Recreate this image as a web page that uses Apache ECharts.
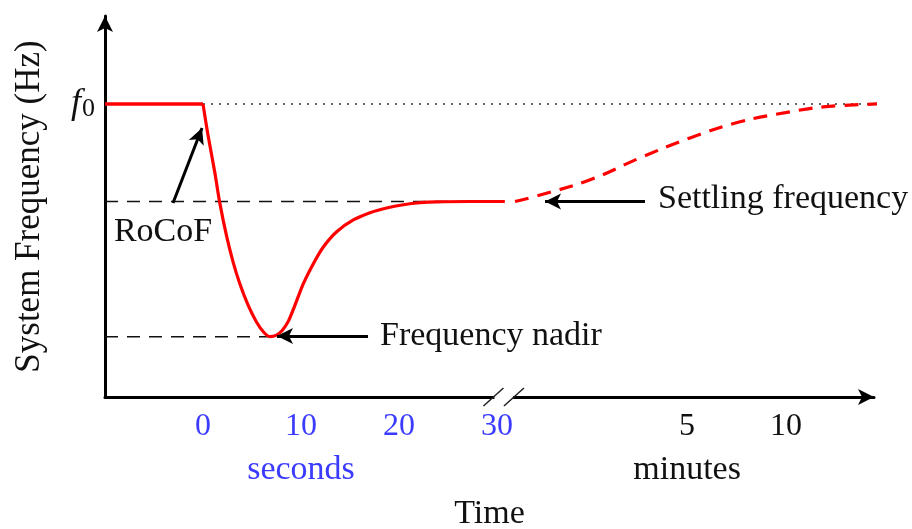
<!DOCTYPE html>
<html>
<head>
<meta charset="utf-8">
<script src="https://cdn.jsdelivr.net/npm/echarts@6/dist/echarts.min.js"></script>
<style>
  html, body { margin: 0; padding: 0; background: #fff; overflow: hidden; }
  #chart { width: 912px; height: 529px; }
</style>
</head>
<body>
<div id="chart"></div>
<script>
  // x is in "axis units": seconds up to the break, minutes squeezed in after it
  // y is frequency normalised so that f0 = 1
  const preEvent = [[-10, 1], [0, 1]];
  const response = [
    [0, 1], [0.51, 0.894], [1.19, 0.769], [1.7, 0.665], [2.38, 0.553],
    [3.06, 0.462], [3.74, 0.388], [4.59, 0.314], [5.44, 0.257], [6.2, 0.221],
    [6.84, 0.206], [7.5, 0.211], [8.1, 0.228], [8.7, 0.258], [9.3, 0.306],
    [10.23, 0.386], [11.26, 0.455], [12.28, 0.512], [13.64, 0.564], [15.34, 0.604],
    [17.04, 0.629], [18.74, 0.645], [20.44, 0.656], [22.14, 0.663], [23.85, 0.666],
    [27.24, 0.667], [30.8, 0.667]
  ];
  const recovery = [
    [31.84, 0.667], [34.4, 0.689], [39.5, 0.741], [44.6, 0.816], [49.7, 0.884],
    [54.8, 0.939], [59.9, 0.973], [63.3, 0.99], [68.9, 1.0]
  ];
  const f0Line = [[0, 1], [69.1, 1]];
  const settleLine = [[-10, 0.667], [30.6, 0.667]];
  const nadirLine = [[-10, 0.206], [6.84, 0.206]];

  const tickValues = [0, 10, 20, 30, 49.4, 59.5];
  const tickLabels = ['0', '10', '20', '30', '5', '10'];
  const tickUnit = ['sec', 'sec', 'sec', 'sec', 'min', 'min'];

  // arrows: [tail, tip]
  const rocofArrow = [[-3.06, 0.662], [-0.1, 0.918]];
  const nadirArrow = [[16.84, 0.208], [7.55, 0.208]];
  const settleArrow = [[45.1, 0.667], [34.9, 0.667]];

  const FONT = 'Liberation Serif';
  const BLUE = '#3b3bff';
  const INK = '#111';

  const chart = echarts.init(document.getElementById('chart'));

  function arrowLine(a) {
    return [
      { coord: a[0], symbol: 'none' },
      { coord: a[1], symbol: 'arrow', symbolSize: [12, 16] }
    ];
  }

  chart.setOption({
    animation: false,
    grid: { left: 105, right: 38, top: 16, bottom: 132, outerBoundsMode: 'none' },
    xAxis: {
      type: 'value',
      min: -10,
      max: 68.47,
      name: 'Time',
      nameLocation: 'middle',
      nameGap: 100,
      nameTextStyle: { fontFamily: FONT, fontSize: 34, color: INK },
      axisLine: {
        onZero: false,
        symbol: ['none', 'arrow'],
        symbolSize: [12, 16],
        lineStyle: { color: '#000', width: 3 }
      },
      axisTick: { show: false },
      splitLine: { show: false },
      axisLabel: {
        customValues: tickValues,
        margin: 14,
        fontFamily: FONT,
        fontSize: 32,
        formatter: function (v) {
          let k = 0;
          tickValues.forEach(function (t, i) {
            if (Math.abs(t - v) < Math.abs(tickValues[k] - v)) k = i;
          });
          return '{' + tickUnit[k] + '|' + tickLabels[k] + '}';
        },
        rich: {
          sec: { color: BLUE, fontFamily: FONT, fontSize: 32 },
          min: { color: INK, fontFamily: FONT, fontSize: 32 }
        }
      }
    },
    yAxis: {
      type: 'value',
      min: 0,
      max: 1.3,
      name: 'System Frequency (Hz)',
      nameLocation: 'middle',
      nameGap: 58,
      nameTextStyle: { fontFamily: FONT, fontSize: 35, color: INK },
      axisLine: {
        onZero: false,
        symbol: ['none', 'arrow'],
        symbolSize: [12, 16],
        lineStyle: { color: '#000', width: 3 }
      },
      axisTick: { show: false },
      splitLine: { show: false },
      axisLabel: {
        customValues: [1],
        margin: 10,
        formatter: function () { return '{f|f}{s|0}'; },
        rich: {
          f: { fontFamily: FONT, fontStyle: 'italic', fontSize: 36, color: INK },
          s: { fontFamily: FONT, fontSize: 26, color: INK, padding: [10, 0, 0, 1] }
        }
      }
    },
    series: [
      {
        name: 'f0 level', type: 'line', data: f0Line, symbol: 'none', clip: false, z: 1,
        lineStyle: { color: '#333', width: 1.5, type: [2, 6] }
      },
      {
        name: 'settling level', type: 'line', data: settleLine, symbol: 'none', z: 1,
        lineStyle: { color: '#111', width: 1.5, type: [13, 9] }
      },
      {
        name: 'nadir level', type: 'line', data: nadirLine, symbol: 'none', z: 1,
        lineStyle: { color: '#111', width: 1.5, type: [13, 9] }
      },
      {
        name: 'pre', type: 'line', data: preEvent, symbol: 'none', z: 3,
        lineStyle: { color: '#ff0000', width: 3.5 }
      },
      {
        name: 'response', type: 'line', data: response, symbol: 'none', smooth: 0.3, z: 3,
        lineStyle: { color: '#ff0000', width: 3.2 },
        markLine: {
          silent: true,
          label: { show: false },
          lineStyle: { color: '#000', width: 3, type: 'solid' },
          data: [arrowLine(rocofArrow), arrowLine(nadirArrow), arrowLine(settleArrow)]
        }
      },
      {
        name: 'recovery', type: 'line', data: recovery, symbol: 'none', smooth: 0.4, clip: false, z: 3,
        lineStyle: { color: '#ff0000', width: 3.2, type: [14, 9] }
      }
    ]
  });

  // annotations placed relative to the axes
  const px = function (p) { return chart.convertToPixel({ gridIndex: 0 }, p); };
  const axisY = px([0, 0])[1];
  const txt = function (text, p, align, vAlign, color) {
    return {
      type: 'text', x: p[0], y: p[1], z: 10,
      style: { text: text, font: '34px "' + FONT + '"', fill: color || INK, align: align, verticalAlign: vAlign }
    };
  };
  const rocofTail = px(rocofArrow[0]);
  const nadirTail = px(nadirArrow[0]);
  const settleTail = px(settleArrow[0]);
  const b1 = px([29.64, 0])[0];
  const b2 = px([31.73, 0])[0];

  chart.setOption({
    graphic: [
      txt('RoCoF', [rocofTail[0] - 10, rocofTail[1] + 12], 'center', 'top'),
      txt('Frequency nadir', [nadirTail[0] + 12, nadirTail[1]], 'left', 'middle'),
      txt('Settling frequency', [settleTail[0] + 13, settleTail[1] - 2], 'left', 'middle'),
      txt('seconds', [px([10, 0])[0], axisY + 73], 'center', 'middle', BLUE),
      txt('minutes', [px([49.4, 0])[0], axisY + 73], 'center', 'middle', INK),
      {
        type: 'rect', z: 10,
        shape: { x: b1 + 1, y: axisY - 3, width: b2 - b1 - 2, height: 6 },
        style: { fill: '#fff' }
      },
      {
        type: 'line', z: 11,
        shape: { x1: b1 - 10, y1: axisY + 9, x2: b1 + 10, y2: axisY - 9 },
        style: { stroke: '#222', lineWidth: 1.5 }
      },
      {
        type: 'line', z: 11,
        shape: { x1: b2 - 10, y1: axisY + 9, x2: b2 + 10, y2: axisY - 9 },
        style: { stroke: '#222', lineWidth: 1.5 }
      }
    ]
  });
</script>
</body>
</html>
